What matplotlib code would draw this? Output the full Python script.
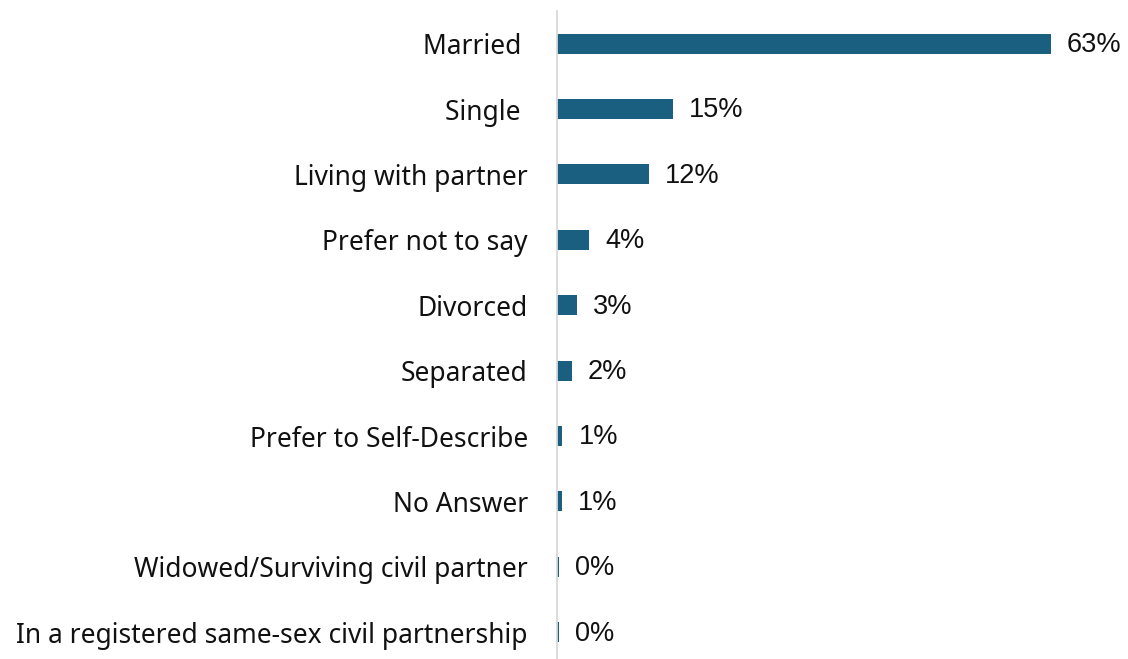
import matplotlib.pyplot as plt

categories = ['Married ', 'Single ', 'Living with partner', 'Prefer not to say',
              'Divorced', 'Separated', 'Prefer to Self-Describe', 'No Answer',
              'Widowed/Surviving civil partner',
              'In a registered same-sex civil partnership']
shares = [63.0, 14.8, 11.7, 4.1, 2.6, 1.9, 0.7, 0.6, 0.3, 0.2]

fig = plt.figure(figsize=(11.28, 6.59), dpi=100)
ax = fig.add_axes([557 / 1128, 0, 571 / 1128, 648 / 659])

pos = list(range(len(categories)))
ax.barh(pos, shares, height=0.306, color='#1a5f80')

# value labels just right of each bar
for i, v in enumerate(shares):
    ax.annotate(f'{v:.0f}%', (v, i), textcoords='offset points', xytext=(11.5, -1),
                ha='left', va='center', fontsize=19.5, family='Liberation Sans',
                color='#111111')

ax.set_xlim(0, 72.8)
ax.set_ylim(9.41, -0.5)
ax.set_yticks(pos)
ax.set_yticklabels(categories, fontsize=19, family='Noto Sans', color='#111111')
ax.tick_params(axis='y', length=0, pad=21)
ax.set_xticks([])

for s in ['top', 'right', 'bottom']:
    ax.spines[s].set_visible(False)
ax.spines['left'].set_color('#d9d9d9')
ax.spines['left'].set_linewidth(1.3)

fig.savefig('out.png', dpi=100)
